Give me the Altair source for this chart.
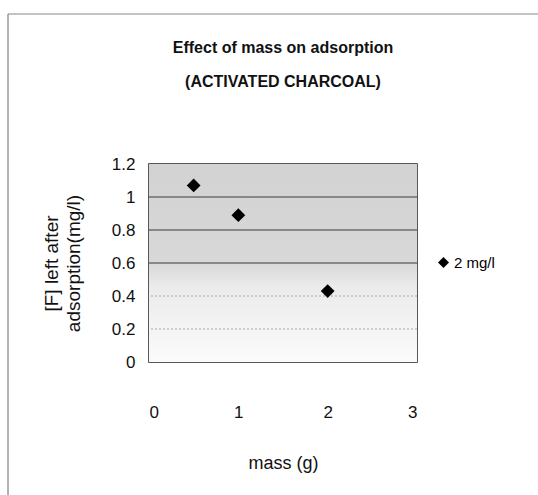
import altair as alt
import pandas as pd

mass = [0.5, 1.0, 2.0]
fluoride = [1.07, 0.89, 0.43]
series = ["2 mg/l", "2 mg/l", "2 mg/l"]
x_ticks = [0, 1, 2, 3]
y_ticks = [0, 0.2, 0.4, 0.6, 0.8, 1.0, 1.2]
grid_light = [0.2, 0.4]
grid_dark = [0.6, 0.8, 1.0]

df = pd.DataFrame({"mass": mass, "F": fluoride, "series": series})
bg = pd.DataFrame({"x": [0], "x2": [3], "y": [1.2], "y2": [0]})

FONT = "Liberation Sans"

xs = alt.Scale(domain=[0, 3], nice=False)
ys = alt.Scale(domain=[0, 1.2], nice=False)

x_axis = alt.Axis(values=x_ticks, title="mass (g)", labelPadding=42, format="d",
                  tickSize=0, domain=False, grid=False, titlePadding=34,
                  titleFontSize=18, labelOverlap=False)
y_axis = alt.Axis(values=y_ticks, labelOverlap=False,
                  title=["[F] left after", "adsorption(mg/l)"],
                  labelPadding=14, tickSize=0, domain=False,
                  titlePadding=28, grid=False, titleFontSize=19,
                  labelExpr="datum.value == 0 ? '0' : format(datum.value, '.1~f')")

background = alt.Chart(bg).mark_rect(
    color=alt.Gradient(
        gradient="linear", x1=0, y1=0, x2=0, y2=1,
        stops=[alt.GradientStop(color="#d2d2d2", offset=0),
               alt.GradientStop(color="#d8d8d8", offset=0.5),
               alt.GradientStop(color="#ebebeb", offset=0.62),
               alt.GradientStop(color="#fbfbfb", offset=1)]
    )
).encode(
    x=alt.X("x:Q", scale=xs, axis=x_axis),
    x2="x2:Q",
    y=alt.Y("y:Q", scale=ys, axis=y_axis),
    y2="y2:Q",
)

g_light = alt.Chart(pd.DataFrame({"g": grid_light})).mark_rule(
    color="#a8a8a8", strokeDash=[2, 2], strokeWidth=1.2
).encode(y=alt.Y("g:Q", scale=ys, axis=y_axis))

g_dark = alt.Chart(pd.DataFrame({"g": grid_dark})).mark_rule(
    color="#3a3a3a", strokeWidth=1.2
).encode(y=alt.Y("g:Q", scale=ys, axis=y_axis))

points = alt.Chart(df).mark_point(shape="diamond", filled=True, size=190, opacity=1).encode(
    x=alt.X("mass:Q", scale=xs, axis=x_axis),
    y=alt.Y("F:Q", scale=ys, axis=y_axis),
    color=alt.Color("series:N", scale=alt.Scale(range=["#000000"]),
                    legend=alt.Legend(title=None, orient="none", legendX=287, legendY=91,
                                      symbolType="diamond", symbolSize=120, labelOffset=3,
                                      labelFontSize=15, labelFont=FONT, symbolFillColor="#000",
                                      symbolStrokeWidth=0)),
)

border = alt.Chart(bg).mark_rule(color="#666", strokeWidth=1).encode(
    x=alt.value(-141), y=alt.value(-150), y2=alt.value(340)
) + alt.Chart(bg).mark_rule(color="#888", strokeWidth=1).encode(
    x=alt.value(-141), x2=alt.value(400), y=alt.value(-150)
)

chart = alt.layer(background, g_light, g_dark, points, border).properties(
    width=268, height=198,
    title=alt.Title(["Effect of mass on adsorption", "(ACTIVATED CHARCOAL)"],
                    font=FONT, fontSize=16,
                    fontWeight="bold", lineHeight=34,
                    offset=-76, anchor="middle", frame="group", color="#111"),
    autosize="none",
    background="white",
    padding={"left": 149, "top": 164, "right": 121, "bottom": 133},
).configure_view(stroke="#222", strokeWidth=1.5).configure_axis(
    labelFont=FONT, titleFont=FONT, labelFontSize=17, titleFontSize=17,
    titleFontWeight="normal", labelColor="#111", titleColor="#111",
).configure_axisY(titleLineHeight=22)

chart.save("out.html", embed_options={"renderer": "svg", "actions": False})
